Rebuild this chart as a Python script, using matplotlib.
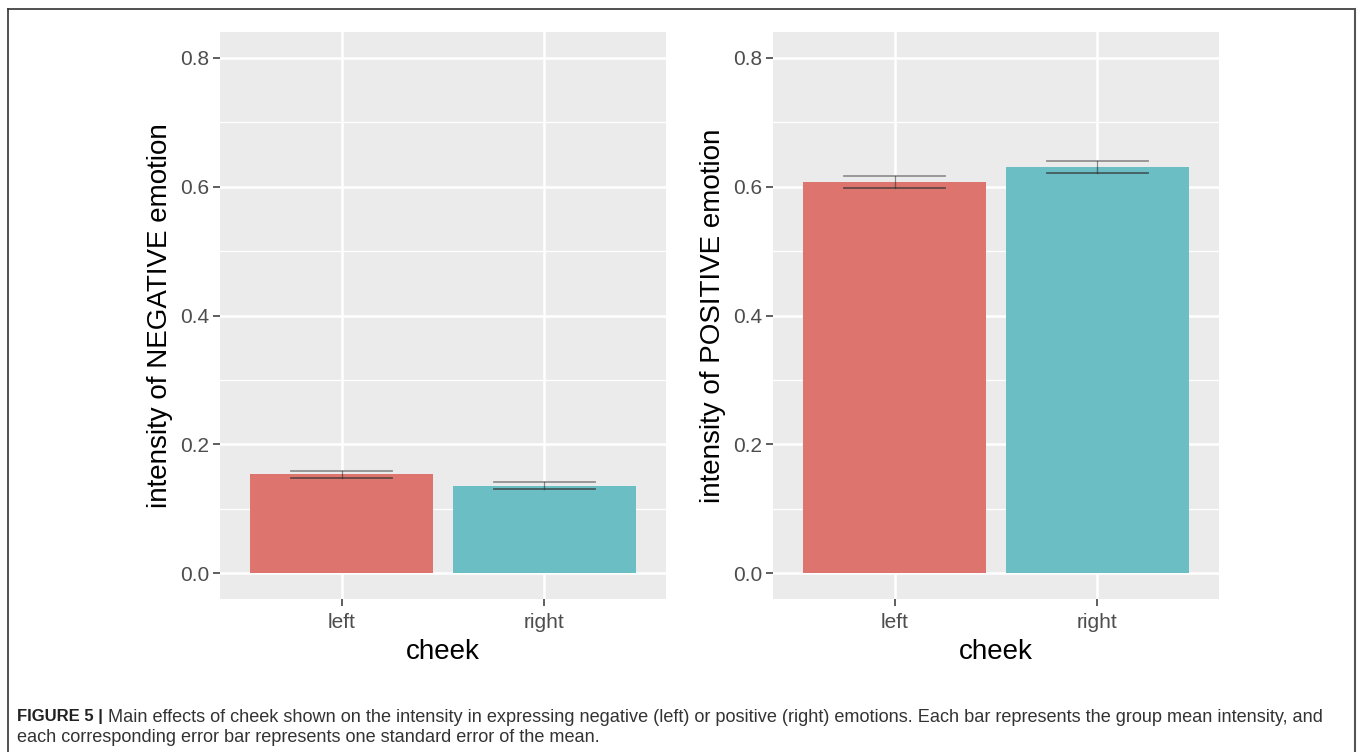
import matplotlib
matplotlib.use("Agg")
import matplotlib.pyplot as plt
from matplotlib.lines import Line2D
import numpy as np

plt.rcParams["font.family"] = ["Liberation Sans", "DejaVu Sans"]

# data
cheeks = ["left", "right"]
neg_mean = [0.1535, 0.136]
neg_se = [0.0052, 0.0050]
pos_mean = [0.6067, 0.6305]
pos_se = [0.0095, 0.0097]
ylabels = ["intensity of NEGATIVE emotion", "intensity of POSITIVE emotion"]
yticks = [0.0, 0.2, 0.4, 0.6, 0.8]
bar_colors = ["#DD756E", "#6BBEC3"]

caption_bold = "FIGURE 5 |"
caption_line1 = (" Main effects of cheek shown on the intensity in expressing negative (left) "
                 "or positive (right) emotions. Each bar represents the group mean intensity, and")
caption_line2 = "each corresponding error bar represents one standard error of the mean."

W, H = 1360, 752
fig = plt.figure(figsize=(W / 100, H / 100), dpi=100)
fig.patch.set_facecolor("white")

panel_left = [220, 773]
panel_w = 446
panel_top, panel_bottom = 32, 599


def draw_panel(px, means, ses, ylabel):
    ax = fig.add_axes([px / W, 1 - panel_bottom / H, panel_w / W, (panel_bottom - panel_top) / H])
    ax.set_facecolor("#EBEBEB")
    x = np.arange(1, len(cheeks) + 1)
    ax.set_axisbelow(True)
    for yv in np.arange(0.1, 0.8, 0.2):
        ax.axhline(yv, color="white", lw=0.9, zorder=0)
    for yv in yticks:
        ax.axhline(yv, color="white", lw=1.8, zorder=0)
    for xv in x:
        ax.axvline(xv, color="white", lw=1.8, zorder=0)
    ax.bar(x, means, width=0.9, color=bar_colors, zorder=2)
    for xi, m, s in zip(x, means, ses):
        ax.plot([xi - 0.25, xi + 0.25], [m + s, m + s], color="#555555", alpha=0.6, lw=1.3, zorder=3)
        ax.plot([xi - 0.25, xi + 0.25], [m - s, m - s], color="#333333", alpha=0.7, lw=1.3, zorder=3)
        ax.plot([xi, xi], [m - s, m + s], color="#333333", alpha=0.6, lw=1.0, zorder=3)
    ax.set_xlim(0.4, 2.6)
    ax.set_ylim(-0.04, 0.84)
    ax.set_xticks(x)
    ax.set_xticklabels(cheeks)
    ax.set_yticks(yticks)
    ax.set_yticklabels(["%.1f" % v for v in yticks])
    for sp in ax.spines.values():
        sp.set_visible(False)
    ax.tick_params(axis="both", colors="#333333", labelcolor="#4D4D4D", labelsize=15,
                   length=5, width=1.1, pad=3)
    ax.tick_params(axis="x", pad=5)
    ax.set_xlabel("cheek", fontsize=20, color="black", labelpad=5)
    ax.set_ylabel(ylabel, fontsize=20, color="black", labelpad=5)
    return ax


draw_panel(panel_left[0], neg_mean, neg_se, ylabels[0])
draw_panel(panel_left[1], pos_mean, pos_se, ylabels[1])

# frame around the figure
fig.add_artist(Line2D([8 / W, 8 / W], [0, 1 - 9 / H], color="#333333", lw=1.2))
fig.add_artist(Line2D([8 / W, 1355 / W], [1 - 9 / H, 1 - 9 / H], color="#333333", lw=1.2))
fig.add_artist(Line2D([1355 / W, 1355 / W], [0, 1 - 9 / H], color="#555555", lw=1.5))

t = fig.text(17 / W, 1 - 717 / H, caption_bold, fontsize=12, fontweight="bold",
             color="#222222", va="center", ha="left")
fig.canvas.draw()
bb = t.get_window_extent()
fig.text(bb.x1 / W, 1 - 717 / H, caption_line1, fontsize=13.1, color="#333333",
         va="center", ha="left")
fig.text(17 / W, 1 - 738 / H, caption_line2, fontsize=13.1, color="#333333",
         va="center", ha="left")

fig.savefig("out.png", dpi=100)
